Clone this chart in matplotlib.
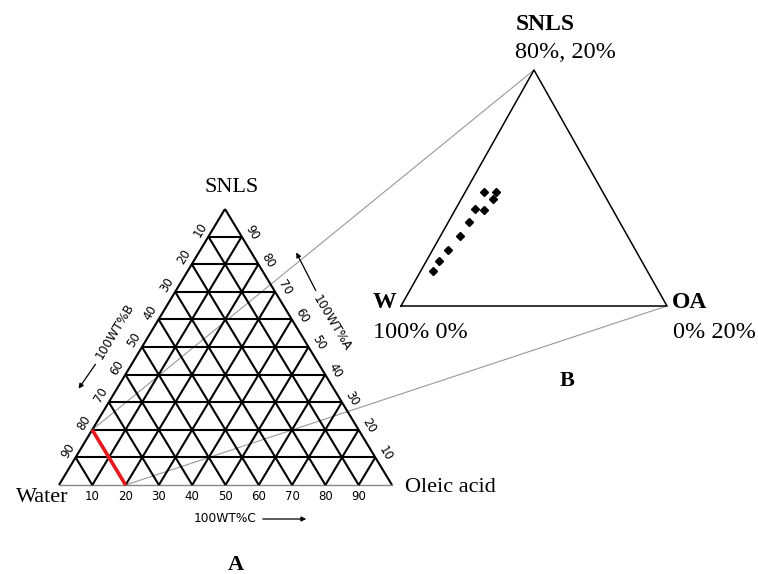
import numpy as np
import matplotlib.pyplot as plt

# ternary diagram A (full) and B (zoomed corner) -- values in percent
ticks = [10, 20, 30, 40, 50, 60, 70, 80, 90]
red_water = 80           # water % of the red line in A
# B: the formulation points, as % of SNLS and OA within triangle B
snls_b = [48.2, 48.2, 45.2, 41.2, 40.8, 35.6, 29.7, 23.9, 19.2, 14.7]
oa_b = [7.1, 11.7, 11.9, 7.1, 10.7, 7.9, 7.5, 5.8, 4.8, 4.6]

# vertex positions (W, OA, SNLS) in figure pixels
A_W, A_O, A_S = np.array([59, 485]), np.array([392, 485]), np.array([225, 209])
B_W, B_O, B_S = np.array([401, 306]), np.array([667, 306]), np.array([534, 70])


def tern(o, s, W, O, S):
    # o, s in percent -> pixel position
    o = np.asarray(o) / 100.0
    s = np.asarray(s) / 100.0
    p = W[:, None] + np.outer(O - W, o) + np.outer(S - W, s)
    return p[0], p[1]


def seg(ax, p0, p1, **kw):
    x0, y0 = tern(p0[0], p0[1], A_W, A_O, A_S)
    x1, y1 = tern(p1[0], p1[1], A_W, A_O, A_S)
    ax.plot([x0[0], x1[0]], [y0[0], y1[0]], **kw)


fig = plt.figure(figsize=(7.58, 5.74), dpi=100)
ax = fig.add_axes([0, 0, 1, 1])
ax.set_xlim(0, 758)
ax.set_ylim(574, 0)
ax.axis('off')

serif = 'Liberation Serif'
grid_kw = dict(color='black', lw=1.5, solid_capstyle='butt')

# --- triangle A ---
seg(ax, (0, 0), (0, 100), **grid_kw)
seg(ax, (100, 0), (0, 100), **grid_kw)
seg(ax, (0, 0), (100, 0), color='#888888', lw=1.0)
for t in ticks:
    seg(ax, (0, t), (100 - t, t), **grid_kw)        # const SNLS
    seg(ax, (t, 0), (t, 100 - t), **grid_kw)        # const OA
    seg(ax, (100 - t, 0), (0, 100 - t), **grid_kw)  # const water

# grey connectors from A to B
rx, ry = tern([0, 100 - red_water], [100 - red_water, 0], A_W, A_O, A_S)
ax.plot([rx[0], B_S[0]], [ry[0], B_S[1]], color='#999999', lw=0.8, zorder=1)
ax.plot([rx[1], B_O[0]], [ry[1], B_O[1]], color='#999999', lw=0.8, zorder=1)
ax.plot(rx, ry, color='#e8191c', lw=2.6, solid_capstyle='butt', zorder=3)

tick_font = dict(family='DejaVu Sans', fontsize=8.5, ha='center', va='center')
for t in ticks:
    x, y = tern([t], [0], A_W, A_O, A_S)
    ax.text(x[0], y[0] + 12, str(t), **tick_font)
    x, y = tern([0], [100 - t], A_W, A_O, A_S)
    ax.text(x[0] - 8, y[0] - 7, str(t), rotation=59, **tick_font)
    x, y = tern([100 - t], [t], A_W, A_O, A_S)
    ax.text(x[0] + 10, y[0] - 4, str(t), rotation=-59, **tick_font)

axis_font = dict(family='DejaVu Sans', fontsize=8.8, ha='center', va='center')
ax.text(225, 519, '100WT%C', **axis_font)
ax.annotate('', xy=(309, 519), xytext=(260, 519),
            arrowprops=dict(arrowstyle='-|>', color='black', lw=0.9, mutation_scale=7))
ax.text(115, 331, '100WT%B', rotation=59, **axis_font)
ax.annotate('', xy=(77, 391), xytext=(97, 362),
            arrowprops=dict(arrowstyle='-|>', color='black', lw=0.9, mutation_scale=7))
ax.text(332, 323, '100WT%A', rotation=-59, **axis_font)
ax.annotate('', xy=(295, 250), xytext=(317, 293),
            arrowprops=dict(arrowstyle='-|>', color='black', lw=0.9, mutation_scale=7))

ax.text(232, 188, 'SNLS', family=serif, fontsize=16, ha='center', va='center')
ax.text(42, 498, 'Water', family=serif, fontsize=16, ha='center', va='center')
ax.text(405, 488, 'Oleic acid', family=serif, fontsize=16, ha='left', va='center')
ax.text(236, 565, 'A', family=serif, fontsize=16, weight='bold', ha='center', va='center')

# --- triangle B ---
bx = [B_W[0], B_O[0], B_S[0], B_W[0]]
by = [B_W[1], B_O[1], B_S[1], B_W[1]]
ax.plot(bx, by, color='black', lw=1.1)
px, py = tern(oa_b, snls_b, B_W, B_O, B_S)
ax.plot(px, py, 'D', color='black', markersize=4.5, linestyle='none')

ax.text(545, 25, 'SNLS', family=serif, fontsize=17, weight='bold', ha='center', va='center')
ax.text(565, 53, '80%, 20%', family=serif, fontsize=17.5, ha='center', va='center')
ax.text(384, 303, 'W', family=serif, fontsize=17, weight='bold', ha='center', va='center')
ax.text(373, 332, '100% 0%', family=serif, fontsize=17.5, ha='left', va='center')
ax.text(672, 303, 'OA', family=serif, fontsize=17, weight='bold', ha='left', va='center')
ax.text(673, 332, '0% 20%', family=serif, fontsize=17.5, ha='left', va='center')
ax.text(567, 381, 'B', family=serif, fontsize=16, weight='bold', ha='center', va='center')

fig.savefig('out.png', dpi=100)
